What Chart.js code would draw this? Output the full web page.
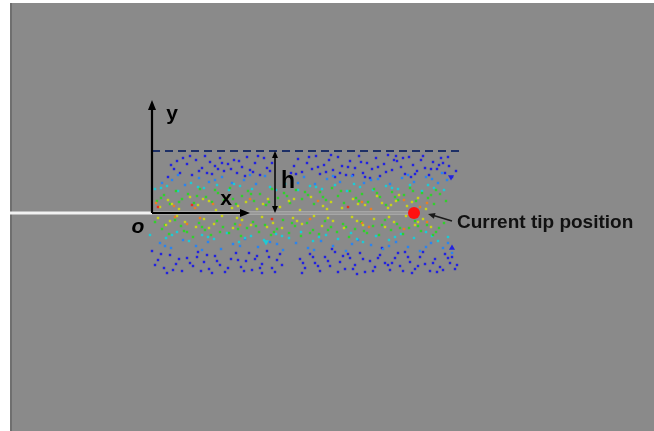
<!DOCTYPE html>
<html>
<head>
<meta charset="utf-8">
<script src="https://cdn.jsdelivr.net/npm/chart.js@4.4.1/dist/chart.umd.min.js"></script>
<style>
  html, body { margin: 0; padding: 0; background: #ffffff; }
  #wrap { width: 654px; height: 431px; position: relative; }
</style>
</head>
<body>
<div id="wrap"><canvas id="c" width="654" height="431"></canvas></div>
<script>
// Coordinates are measured from the crack tip origin O, x along the crack, y normal to it.

// Fracture process zone samples, grouped by level (outer = low, inner = high)
const levelBlue = [
  [16,36],[22,44],[28,40],[35,49],[40,38],[44,53],[50,45],[55,40],[58,51],[63,47],[68,55],[72,42],[76,49],[82,53],
  [85,40],[90,46],[95,56],[98,43],[103,50],[108,38],[112,55],[115,45],[142,47],[146,54],[150,41],[155,50],[160,44],
  [164,57],[168,39],[172,48],[177,53],[181,43],[186,56],[190,47],[194,38],[198,52],[203,45],[207,57],[211,40],
  [215,50],[220,44],[224,55],[228,37],[232,49],[236,58],[240,43],[245,52],[249,46],[253,39],[257,56],[261,48],
  [265,42],[269,53],[273,45],[277,38],[281,51],[285,44],[289,55],[293,40],[297,47],[25,52],[60,39],[93,37],
  [183,36],[218,35],[259,36],[300,36],[38,57],[79,44],[120,50],[139,40],[201,38],[244,57],[287,48],
  [19,48],[31,55],[47,42],[53,57],[66,44],[70,50],[87,52],[101,41],[106,57],[118,42],[144,39],[157,56],[166,46],
  [179,58],[188,40],[196,46],[209,51],[213,36],[226,46],[242,53],[251,55],[263,39],[271,57],[279,44],[291,50],
  [296,56],[304,42],[234,41],[174,41],
  [0,-38],[6,-47],[12,-55],[18,-42],[24,-51],[30,-58],[35,-45],[41,-53],[46,-39],[52,-49],[57,-56],[63,-43],
  [68,-52],[73,-59],[79,-46],[84,-40],[89,-54],[94,-48],[100,-57],[105,-43],[110,-51],[115,-38],[120,-55],
  [125,-47],[130,-52],[148,-46],[153,-55],[158,-41],[163,-50],[168,-58],[173,-44],[178,-53],[183,-39],[188,-49],
  [193,-56],[198,-45],[203,-52],[208,-40],[213,-59],[218,-48],[223,-54],[228,-42],[233,-50],[238,-57],[243,-45],
  [248,-53],[253,-39],[258,-49],[263,-56],[268,-44],[273,-51],[278,-58],[283,-46],[288,-54],[293,-41],[298,-50],
  [303,-56],[260,-60],[205,-61],[110,-60],[60,-60],[180,-36],[230,-35],[15,-60],[45,-44],[97,-40],[150,-60],
  [196,-41],[240,-50],[285,-59],[300,-44],
  [3,-52],[9,-41],[21,-57],[27,-46],[38,-50],[49,-58],[55,-42],[65,-48],[76,-55],[86,-47],[92,-58],[103,-46],
  [108,-55],[117,-44],[123,-59],[128,-41],[151,-50],[161,-44],[166,-53],[176,-48],[186,-59],[191,-43],[201,-56],
  [211,-46],[221,-58],[226,-45],[236,-52],[246,-40],[251,-58],[256,-44],[266,-53],[271,-39],[281,-50],[291,-57],
  [296,-45],[305,-52]
];
const levelAzure = [
  [10,30],[20,33],[33,28],[47,35],[57,31],[70,36],[80,30],[92,33],[104,29],[113,37],[140,32],[152,36],[163,29],
  [175,34],[188,31],[200,37],[212,30],[226,34],[238,29],[250,35],[262,31],[274,36],[286,30],[295,33],[290,40],
  [26,38],[63,33],[98,38],[146,30],[181,37],[219,33],[256,38],[280,34],
  [8,-30],[19,-35],[31,-27],[44,-33],[56,-29],[69,-36],[81,-31],[93,-26],[106,-34],[118,-29],[131,-37],[144,-30],
  [156,-35],[169,-28],[181,-33],[194,-38],[206,-27],[219,-32],[231,-36],[244,-29],[256,-34],[268,-38],[279,-30],
  [291,-35],[300,-40],[13,-33],[50,-37],[88,-33],[125,-31],[162,-37],[200,-31],[237,-33],[274,-34],[296,-30]
];
const levelCyan = [
  [3,24],[15,27],[26,22],[39,30],[52,25],[65,28],[77,23],[88,27],[100,24],[118,26],[133,29],[146,23],[158,27],
  [170,24],[183,28],[195,22],[208,26],[221,23],[234,27],[246,24],[258,28],[270,22],[282,25],[292,23],
  [9,25],[46,26],[82,29],[124,23],[164,26],[202,29],[240,25],[276,28],
  [-2,-22],[14,-25],[25,-19],[37,-28],[50,-22],[62,-26],[75,-20],[87,-29],[99,-23],[112,-27],[124,-21],[137,-25],
  [149,-19],[161,-28],[174,-22],[186,-26],[199,-20],[211,-29],[224,-23],[237,-27],[249,-21],[262,-25],[274,-19],
  [286,-28],[296,-24],[20,-22],[56,-24],[93,-25],[130,-23],[167,-24],[205,-26],[243,-24],[280,-23]
];
const levelGreen = [
  [5,12],[12,18],[18,9],[24,22],[30,14],[36,19],[42,10],[48,24],[54,16],[60,11],[66,20],[72,13],[78,25],[84,9],
  [90,17],[96,22],[102,12],[108,19],[114,8],[120,24],[126,15],[132,20],[138,10],[144,23],[150,14],[156,18],
  [162,9],[168,21],[174,13],[180,25],[186,17],[192,10],[198,22],[204,15],[210,19],[216,11],[222,24],[228,16],
  [234,8],[240,21],[246,13],[252,18],[258,25],[264,12],[270,20],[276,15],[282,9],[288,19],[294,12],[284,23],
  [9,15],[27,11],[45,17],[63,23],[81,14],[99,19],[117,11],[135,17],[153,21],[171,16],[189,22],[207,12],[225,20],
  [243,16],[261,22],[279,18],
  [3,-9],[10,-16],[17,-21],[23,-7],[29,-13],[35,-19],[41,-24],[47,-10],[53,-17],[59,-22],[65,-8],[71,-14],
  [77,-20],[83,-11],[89,-23],[95,-15],[101,-9],[107,-19],[113,-12],[119,-22],[125,-16],[131,-7],[137,-20],
  [143,-13],[149,-23],[155,-10],[161,-17],[167,-21],[173,-8],[179,-14],[185,-19],[191,-11],[197,-24],[203,-16],
  [209,-9],[215,-20],[221,-13],[227,-22],[233,-7],[239,-17],[245,-11],[251,-21],[257,-15],[263,-8],[269,-18],
  [275,-12],[281,-22],[287,-15],[292,-10],
  [13,-12],[32,-18],[50,-14],[68,-19],[86,-16],[104,-13],[122,-19],[140,-10],[158,-20],[176,-17],[194,-14],
  [212,-18],[230,-12],[248,-15],[266,-13],[284,-19]
];
const levelYellow = [
  [8,6],[16,13],[27,4],[38,16],[46,8],[57,12],[64,3],[75,15],[86,7],[94,11],[105,4],[116,14],[128,6],[137,12],
  [148,3],[159,16],[171,7],[179,11],[190,5],[201,14],[213,8],[225,17],[236,5],[244,12],[255,7],[266,15],[274,4],
  [247,18],[230,10],[20,9],[51,14],[80,5],[111,9],[142,14],[175,4],[206,9],[239,8],[260,11],
  [6,-5],[14,-12],[25,-3],[33,-9],[44,-14],[52,-6],[62,-11],[70,-3],[81,-15],[90,-7],[99,-12],[110,-4],[121,-10],
  [130,-15],[141,-5],[150,-11],[162,-3],[170,-13],[181,-8],[192,-15],[200,-4],[211,-12],[222,-6],[233,-14],
  [242,-9],[254,-3],[263,-12],[271,-6],[279,-14],[18,-8],[57,-15],[85,-5],[115,-14],[145,-8],[176,-5],[205,-8],
  [237,-4],[266,-9]
];
const levelOrange = [
  [4,10],[22,7],[43,5],[61,9],[98,14],[166,12],[210,11],[219,4],[252,13],[268,6],[275,10],
  [23,-4],[48,-5],[35,-11],[88,-12],[158,-6],[210,-10],[217,-14],[252,-16],[275,-9]
];
const levelRed = [[6,6],[40,8],[120,-6],[196,6],[258,-2]];
const levelMarkers = [[299,36],[300,-35],[114,-29]];

// Geometry of the sketch
const crackStart = -142;        // crack enters from the left boundary
const tipX = 262;               // current crack tip position
const zoneHeight = 62;          // half height h of the zone
const zoneEnd = 311;            // right end of the h guide line
const axisLenX = 98, axisLenY = 113;

const labelText = 'Current tip position';

const levelColors = {
  blue: '#2222e0', azure: '#2a84f0', cyan: '#1ccbd6',
  green: '#30d02c', yellow: '#c8d41a', orange: '#e87e24', red: '#e8301c'
};

function pts(arr) { return arr.map(p => ({ x: p[0], y: p[1] })); }
function dotSet(arr, color, order) {
  return {
    type: 'scatter', data: pts(arr), backgroundColor: color, borderWidth: 0,
    pointStyle: 'rect', pointRadius: 1.7, pointHoverRadius: 1.7, order: order
  };
}

const backdrop = {
  id: 'backdrop',
  beforeDraw(chart) {
    const { ctx, chartArea: a } = chart;
    ctx.save();
    ctx.fillStyle = '#8a8a8a';
    ctx.fillRect(a.left, a.top, a.right - a.left, a.bottom - a.top);
    ctx.fillStyle = '#6f6f6f';
    ctx.fillRect(a.left, a.top, 2, a.bottom - a.top);
    ctx.restore();
  }
};

function arrowHead(ctx, x1, y1, x2, y2, len, wid) {
  const ang = Math.atan2(y2 - y1, x2 - x1);
  ctx.beginPath();
  ctx.moveTo(x2, y2);
  ctx.lineTo(x2 - len * Math.cos(ang) + wid * Math.sin(ang), y2 - len * Math.sin(ang) - wid * Math.cos(ang));
  ctx.lineTo(x2 - len * Math.cos(ang) - wid * Math.sin(ang), y2 - len * Math.sin(ang) + wid * Math.cos(ang));
  ctx.closePath();
  ctx.fill();
}

const sketch = {
  id: 'sketch',
  afterDatasetsDraw(chart) {
    const { ctx, scales: { x, y } } = chart;
    const px = v => x.getPixelForValue(v), py = v => y.getPixelForValue(v);
    ctx.save();
    ctx.strokeStyle = '#000'; ctx.fillStyle = '#000';

    // y axis
    ctx.lineWidth = 2.2;
    ctx.beginPath(); ctx.moveTo(px(0), py(0)); ctx.lineTo(px(0), py(axisLenY) + 8); ctx.stroke();
    arrowHead(ctx, px(0), py(0), px(0), py(axisLenY), 10, 4);
    // x axis
    ctx.beginPath(); ctx.moveTo(px(0), py(0)); ctx.lineTo(px(axisLenX) - 8, py(0)); ctx.stroke();
    arrowHead(ctx, px(0), py(0), px(axisLenX), py(0), 10, 4);

    // h dimension
    const hx = px(123);
    ctx.lineWidth = 1.5;
    ctx.beginPath(); ctx.moveTo(hx, py(zoneHeight) + 5); ctx.lineTo(hx, py(0) - 5); ctx.stroke();
    arrowHead(ctx, hx, py(0), hx, py(zoneHeight), 7, 3);
    arrowHead(ctx, hx, py(zoneHeight), hx, py(0), 7, 3);

    // pointer to the tip
    ctx.strokeStyle = '#1a1a1a'; ctx.fillStyle = '#1a1a1a';
    ctx.lineWidth = 1.5;
    ctx.beginPath(); ctx.moveTo(px(300), py(-8)); ctx.lineTo(px(280), py(-2)); ctx.stroke();
    arrowHead(ctx, px(300), py(-8), px(276), py(-1), 7, 3);

    // labels
    ctx.fillStyle = '#000';
    ctx.textBaseline = 'middle';
    ctx.textAlign = 'center';
    ctx.font = 'bold 21px "Liberation Sans", Arial, sans-serif';
    ctx.fillText('y', px(20), py(99));
    ctx.fillText('x', px(74), py(14));
    ctx.font = 'bold 23px "Liberation Sans", Arial, sans-serif';
    ctx.fillText('h', px(136), py(31));
    ctx.font = 'italic bold 21px "Liberation Sans", Arial, sans-serif';
    ctx.fillText('o', px(-14), py(-14));
    ctx.textAlign = 'left';
    ctx.font = 'bold 19px "Liberation Sans", Arial, sans-serif';
    ctx.fillStyle = '#111';
    ctx.fillText(labelText, px(305), py(-10));
    ctx.restore();
  }
};

new Chart(document.getElementById('c'), {
  data: {
    datasets: [
      // current tip
      { type: 'scatter', data: [{ x: tipX, y: 0 }], backgroundColor: '#ff1010', borderWidth: 0,
        pointRadius: 6, pointHoverRadius: 6, order: 0 },
      // crack path from the origin to the tip
      { type: 'line', data: [{ x: 0, y: 0 }, { x: tipX, y: 0 }], borderColor: '#6e6e6e', borderWidth: 1,
        pointRadius: 0, order: 1 },
      { type: 'line', data: [{ x: 0, y: 0 }, { x: tipX, y: 0 }], borderColor: '#c4c4c4', borderWidth: 3.2,
        pointRadius: 0, order: 1.5 },
      dotSet(levelRed, levelColors.red, 2),
      dotSet(levelOrange, levelColors.orange, 2.1),
      dotSet(levelYellow, levelColors.yellow, 2.2),
      dotSet(levelGreen, levelColors.green, 2.3),
      dotSet(levelCyan, levelColors.cyan, 2.4),
      dotSet(levelAzure, levelColors.azure, 2.5),
      dotSet(levelBlue, levelColors.blue, 2.6),
      { type: 'scatter', data: pts(levelMarkers), backgroundColor: ['#2222e0', '#2222e0', '#1ccbd6'],
        borderWidth: 0, pointStyle: 'triangle', pointRadius: 3.5,
        rotation: [180, 0, 180], order: 2.7 },
      // h guide line
      { type: 'line', data: [{ x: 0, y: zoneHeight }, { x: zoneEnd, y: zoneHeight }], borderColor: '#1d2f66',
        borderWidth: 2, borderDash: [8, 5], pointRadius: 0, order: 3 },
      // pre-existing crack
      { type: 'line', data: [{ x: crackStart, y: 0 }, { x: 0, y: 0 }], borderColor: '#f2f2f2', borderWidth: 3,
        pointRadius: 0, order: 4 }
    ]
  },
  options: {
    responsive: false,
    animation: false,
    devicePixelRatio: 1,
    layout: { autoPadding: false, padding: { left: 10, top: 3, right: 0, bottom: 0 } },
    scales: {
      x: { type: 'linear', min: -142, max: 502, display: false },
      y: { type: 'linear', min: -218, max: 210, display: false }
    },
    plugins: { legend: { display: false }, tooltip: { enabled: false } },
    events: []
  },
  plugins: [backdrop, sketch]
});
</script>
</body>
</html>
